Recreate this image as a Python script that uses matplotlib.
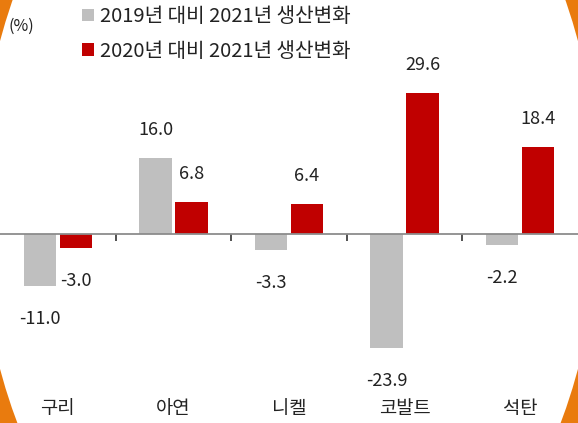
import numpy as np
import matplotlib
matplotlib.use('Agg')
import matplotlib.pyplot as plt
from matplotlib.patches import Ellipse

plt.rcParams['font.family'] = ['Noto Sans CJK KR', 'DejaVu Sans']

categories = ['구리', '아연', '니켈', '코발트', '석탄']
change_vs_2019 = [-11.0, 16.0, -3.3, -23.9, -2.2]
change_vs_2020 = [-3.0, 6.8, 6.4, 29.6, 18.4]
series_labels = ['2019년 대비 2021년 생산변화', '2020년 대비 2021년 생산변화']
series_colors = ['#BFBFBF', '#C00000']

fig = plt.figure(figsize=(5.78, 4.23), dpi=100)
fig.patch.set_facecolor('#E97B0E')
# white rounded background, corners show through
fig.patches.append(Ellipse((0.5, 1 - 205 / 423), 1.073, 2.137, transform=fig.transFigure,
                           facecolor='white', edgecolor='none', zorder=-1))

ax = fig.add_axes([0, 0, 1, 1])
ax.set_zorder(1)
ax.patch.set_alpha(0)

x = np.arange(len(categories))
w = 0.28
off = 0.155
for vals, dx, color, label in [(change_vs_2019, -off, series_colors[0], series_labels[0]),
                               (change_vs_2020, off, series_colors[1], series_labels[1])]:
    bars = ax.bar(x + dx, vals, width=w, color=color, label=label, zorder=3)
    for b, v in zip(bars, vals):
        ax.annotate(f'{v:.1f}', (b.get_x() + b.get_width() / 2, v),
                    xytext=(0, 28 if v >= 0 else -33), textcoords='offset pixels',
                    ha='center', va='center', fontsize=13, color='#222222')

ax.set_xlim(-0.5, len(categories) - 0.5)
ax.set_ylim(-39.7, 49.2)

for s in ['top', 'right', 'left']:
    ax.spines[s].set_visible(False)
ax.spines['bottom'].set_position(('data', 0))
ax.spines['bottom'].set_color('#8C8C8C')
ax.spines['bottom'].set_linewidth(1.3)
ax.spines['bottom'].set_zorder(4)
ax.set_yticks([])
ax.set_xticks(x[:-1] + 0.5)
ax.set_xticklabels([])
ax.tick_params(axis='x', direction='out', length=5, width=1.2, color='#333333')

trans = ax.get_xaxis_transform()
for xi, name in zip(x, categories):
    ax.text(xi, 0.035, name, transform=trans, ha='center', va='center',
            fontsize=13.5, color='#222222')

fig.text(8 / 578, 1 - 26 / 423, '(%)', ha='left', va='center', fontsize=11.5, color='#222222')

ax.legend(loc='upper left', bbox_to_anchor=(82 / 578, 1 - 6 / 423), frameon=False,
          fontsize=14.5, handlelength=0.58, handleheight=0.58, handletextpad=0.3,
          labelspacing=0.68, borderpad=0, borderaxespad=0, labelcolor='#222222')

fig.savefig('out.png', dpi=100, facecolor=fig.get_facecolor())
